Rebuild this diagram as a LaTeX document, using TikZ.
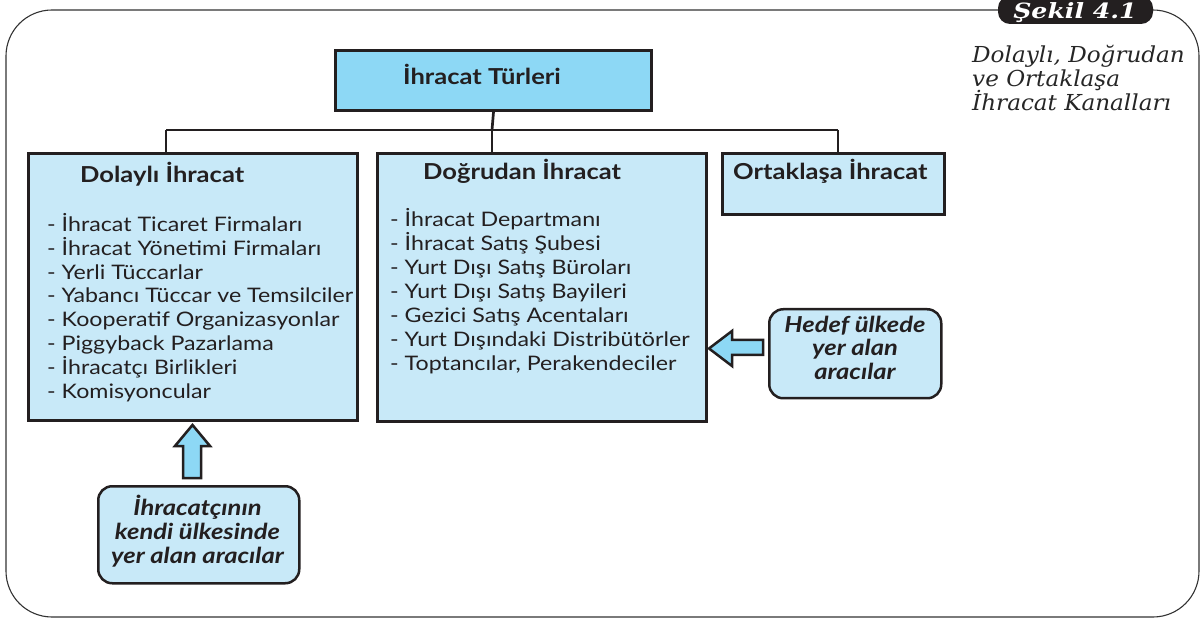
\documentclass[tikz,border=0pt]{standalone}
\usepackage{fontspec}
\setmainfont[FakeStretch=1.16]{Lato}
\newfontfamily\capfont[FakeStretch=1.05]{DejaVu Serif}
\newfontfamily\sekilfont[FakeStretch=1.2]{DejaVu Serif}
\definecolor{ink}{HTML}{231F20}
\definecolor{boxblue}{HTML}{C8E9F8}
\definecolor{skyblue}{HTML}{8DD8F5}
\begin{document}
\begin{tikzpicture}[x=1pt,y=-1pt,
  frame/.style={draw=black!80, line width=1.1pt},
  box/.style={draw=ink, line width=3pt, fill=boxblue, anchor=north west, inner sep=0},
  topbox/.style={box, fill=skyblue},
  rbox/.style={draw=ink, line width=2.5pt, fill=boxblue, rounded corners=14pt, anchor=north west, inner sep=0},
  conn/.style={draw=ink, line width=2.7pt},
  blockarrow/.style={draw=ink, line width=2.5pt, fill=skyblue, line join=miter},
  title/.style={font=\fontsize{22}{26}\selectfont\bfseries, anchor=base west, inner sep=0, text=ink},
  item/.style={font=\fontsize{20}{24}\selectfont, anchor=base west, inner sep=0, text=ink},
  note/.style={font=\fontsize{22}{26}\selectfont\bfseries\itshape, anchor=base, inner sep=0, text=ink},
  captext/.style={font=\capfont\itshape\fontsize{22}{24}\selectfont, anchor=base west, inner sep=0, text=black!85}]
\useasboundingbox (0,0) rectangle (1203,620);
% outer frame
\draw[frame, rounded corners=46pt] (998,10) -- (6,10) -- (6,617) -- (1199,617) -- (1199,10) -- (1150,10);
\fill[ink, rounded corners=12pt] (998,-4) rectangle (1153,24);
\node[font=\sekilfont\bfseries\itshape\fontsize{21}{24}\selectfont, text=white, anchor=base, inner sep=0] (sekil) at (1075,18.5) {Şekil 4.1};
% caption
\node[captext] (c1) at (972,63) {Dolaylı, Doğrudan};
\node[captext] (c2) at (972,87) {ve Ortaklaşa};
\node[captext] (c3) at (972,111) {İhracat Kanalları};
% boxes
\node[topbox, minimum width=316pt, minimum height=60pt] (top) at (334,49) {};
\node[box, minimum width=329pt, minimum height=267pt] (dol) at (27,152) {};
\node[box, minimum width=329pt, minimum height=268pt] (dog) at (376,152) {};
\node[box, minimum width=222pt, minimum height=61pt] (ort) at (721,152) {};
% connectors
\coordinate (jd) at (166,130);
\coordinate (jg) at (492,130);
\coordinate (jo) at (838,130);
\draw[conn] (top.south) -- (jg);
\draw[conn] (jd) -- (jo);
\draw[conn] (jd) -- (jd |- dol.north);
\draw[conn] (jg) -- (jg |- dog.north);
\draw[conn] (jo) -- (jo |- ort.north);
% titles
\node[title] (ttop) at (403,85) {İhracat Türleri};
\node[title] (tdol) at (80,183) {Dolaylı İhracat};
\node[title] (tdog) at (423,180) {Doğrudan İhracat};
\node[title] (tort) at (733,180) {Ortaklaşa İhracat};
% lists
\foreach \t [count=\i] in {- İhracat Ticaret Firmaları, - İhracat Yönetimi Firmaları, - Yerli Tüccarlar, - Yabancı Tüccar ve Temsilciler, - Kooperatif Organizasyonlar, - Piggyback Pazarlama, - İhracatçı Birlikleri, - Komisyoncular}
  \node[item] (d\i) at (47,{231.7+23.76*(\i-1)}) {\t};
\foreach \t [count=\i] in {- İhracat Departmanı, - İhracat Satış Şubesi, - Yurt Dışı Satış Büroları, - Yurt Dışı Satış Bayileri, - Gezici Satış Acentaları, - Yurt Dışındaki Distribütörler, {- Toptancılar, Perakendeciler}}
  \node[item] (g\i) at (390,{227+23.95*(\i-1)}) {\t};
% note boxes
\node[rbox, minimum width=172pt, minimum height=89pt] (hedef) at (768,308) {};
\node[note] (h1) at (855,333) {Hedef ülkede};
\node[note] (h2) at (855,356) {yer alan};
\node[note] (h3) at (855,380) {aracılar};
\node[rbox, minimum width=201pt, minimum height=97pt] (kendi) at (97,485) {};
\node[note] (k1) at (197.5,515) {İhracatçının};
\node[note] (k2) at (197.5,539) {kendi ülkesinde};
\node[note] (k3) at (197.5,563) {yer alan aracılar};
% block arrows
\draw[blockarrow] (183,478) -- (183,446) -- (175,446) -- (192.5,425) -- (210,446) -- (201,446) -- (201,478) -- cycle;
\draw[blockarrow] (763,340) -- (732,340) -- (732,331) -- (709,348.5) -- (732,366) -- (732,355) -- (763,355) -- cycle;
\end{tikzpicture}
\end{document}
